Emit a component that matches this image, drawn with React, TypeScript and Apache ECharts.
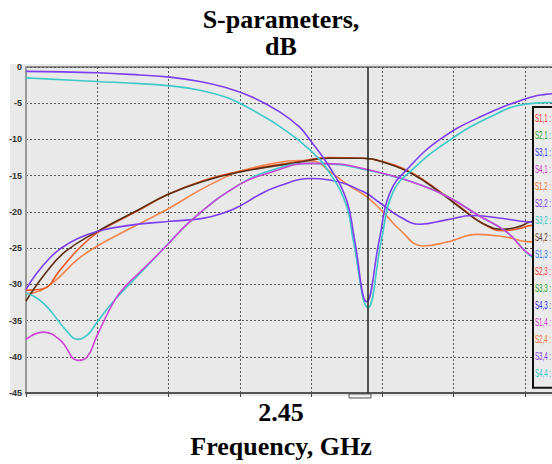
import React, { useEffect, useRef } from "react";
import * as echarts from "echarts";

// ---- data (frequency GHz, dB) ----
const S22: number[][] = [[1.970,-0.6],[2.070,-0.8],[2.130,-1.1],[2.172,-1.4],[2.214,-2.0],[2.249,-2.8],[2.284,-4.0],[2.326,-6.2],[2.354,-8.3],[2.368,-10.0],[2.396,-13.8],[2.420,-18.4],[2.431,-23.8],[2.448,-32.4],[2.466,-23.8],[2.481,-17.3],[2.509,-13.7],[2.551,-10.0],[2.607,-6.9],[2.677,-4.2],[2.708,-3.7],[2.770,-3.2]];
const S44: number[][] = [[1.970,-1.5],[2.070,-2.0],[2.130,-2.3],[2.172,-2.6],[2.214,-3.2],[2.249,-4.1],[2.270,-5.0],[2.298,-6.5],[2.326,-8.2],[2.368,-11.4],[2.396,-14.6],[2.420,-19.2],[2.429,-23.8],[2.450,-33.2],[2.469,-23.8],[2.485,-17.3],[2.513,-14.1],[2.560,-10.4],[2.621,-6.9],[2.673,-5.1],[2.708,-4.9],[2.770,-4.8]];
const S34: number[][] = [[1.970,-30.7],[1.984,-28.6],[2.004,-26.3],[2.018,-25.1],[2.042,-23.7],[2.070,-22.7],[2.112,-21.9],[2.172,-21.3],[2.218,-20.9],[2.249,-20.1],[2.270,-19.2],[2.298,-17.6],[2.326,-16.4],[2.368,-15.4],[2.396,-15.6],[2.443,-17.2],[2.466,-18.7],[2.495,-20.7],[2.523,-21.7],[2.560,-21.1],[2.597,-20.5],[2.631,-20.8],[2.677,-21.4],[2.708,-21.5],[2.770,-21.5]];
const S32: number[][] = [[1.970,-31.2],[1.987,-32.0],[2.004,-33.6],[2.025,-36.2],[2.043,-37.6],[2.057,-36.9],[2.070,-35.2],[2.095,-32.1],[2.130,-28.5],[2.162,-25.2],[2.204,-21.0],[2.270,-16.2],[2.326,-13.9],[2.368,-13.3],[2.410,-13.5],[2.438,-14.0],[2.466,-14.6],[2.513,-15.9],[2.560,-17.8],[2.607,-20.6],[2.645,-22.8],[2.677,-26.0],[2.708,-27.8],[2.770,-30.0]];
const S41: number[][] = [[1.970,-37.6],[1.994,-36.6],[2.018,-37.7],[2.043,-40.5],[2.056,-40.0],[2.070,-37.0],[2.095,-32.1],[2.112,-30.0],[2.130,-28.3],[2.162,-25.2],[2.204,-21.0],[2.270,-16.2],[2.312,-14.6],[2.368,-13.3],[2.410,-13.4],[2.438,-13.9],[2.476,-14.8],[2.513,-15.9],[2.560,-17.8],[2.607,-20.6],[2.645,-22.8],[2.677,-25.9],[2.708,-26.8],[2.770,-29.0]];
const S42: number[][] = [[1.970,-32.3],[1.997,-28.5],[2.025,-25.5],[2.070,-22.7],[2.126,-19.8],[2.169,-17.6],[2.218,-15.8],[2.270,-14.5],[2.350,-13.2],[2.396,-12.6],[2.443,-12.6],[2.476,-13.3],[2.513,-14.8],[2.551,-17.3],[2.583,-19.7],[2.611,-21.6],[2.639,-22.4],[2.663,-22.0],[2.677,-21.4],[2.708,-20.8],[2.770,-20.0]];
const S24: number[][] = [[1.970,-30.8],[1.994,-30.6],[2.018,-28.0],[2.042,-25.3],[2.070,-22.9],[2.126,-19.9],[2.169,-17.6],[2.218,-15.7],[2.270,-14.4],[2.350,-13.1],[2.396,-12.5],[2.443,-12.6],[2.476,-13.2],[2.513,-14.7],[2.551,-17.2],[2.583,-19.6],[2.611,-21.6],[2.639,-22.6],[2.663,-22.3],[2.677,-21.9],[2.708,-21.5],[2.770,-21.0]];
const S12: number[][] = [[1.970,-31.3],[1.990,-30.9],[2.011,-29.5],[2.042,-26.6],[2.070,-24.7],[2.116,-22.3],[2.169,-19.6],[2.214,-17.0],[2.252,-15.1],[2.270,-14.4],[2.312,-13.4],[2.354,-12.9],[2.375,-13.0],[2.396,-14.4],[2.424,-16.4],[2.448,-17.9],[2.470,-19.9],[2.495,-22.5],[2.527,-24.7],[2.560,-24.2],[2.603,-23.1],[2.645,-23.5],[2.673,-24.1],[2.708,-24.2],[2.770,-24.0]];

const MARKER_FREQ = 2.45;
const X_MIN = 1.97;
const X_MAX = 2.77;
const X_STEP = 0.1;
const Y_MIN = -45;
const Y_MAX = 0;
const Y_STEP = 5;

const legendNames = ["S1,1 :", "S2,1 :", "S3,1 :", "S4,1 :", "S1,2 :", "S2,2 :", "S3,2 :", "S4,2 :", "S1,3 :", "S2,3 :", "S3,3 :", "S4,3 :", "S1,4 :", "S2,4 :", "S3,4 :", "S4,4 :"];
const legendColors = ["#ee2a2a", "#22a022", "#2a2ae8", "#c830c8", "#f0702e", "#7a32ee", "#30c4c4", "#5a3418", "#2f6cf0", "#ee3030", "#22a022", "#2424e0", "#d030d0", "#f0702e", "#7a32ee", "#30c4c4"];

const VIOLET = "#7b3ff0";
const TEAL = "#3ec8c8";
const MAGENTA = "#cc44d4";
const BROWN = "#5a2e14";
const REDOR = "#ea5a26";
const ORANGE = "#f4844c";

const serif = "'Liberation Serif', 'Times New Roman', serif";
const narrow = "'Liberation Sans Narrow', 'Liberation Sans', Arial, sans-serif";

export default function App() {
  const ref = useRef<HTMLDivElement>(null);
  useEffect(() => {
    document.body.style.margin = "0";
    const chart = echarts.init(ref.current!, null, { renderer: "svg" });
    const line = (name: string, data: number[][], color: string, extra: any = {}) => ({
      name,
      type: "line",
      data,
      smooth: 0.45,
      showSymbol: false,
      symbol: "none",
      lineStyle: { color, width: 1.6 },
      itemStyle: { color },
      z: 3,
      ...extra,
    });
    chart.setOption({
      animation: false,
      backgroundColor: "#ffffff",
      grid: { left: 26, top: 67, right: 4, bottom: 71, show: true, backgroundColor: "#e9e9e9", borderColor: "#333", borderWidth: 1 },
      xAxis: {
        type: "value", min: X_MIN, max: X_MAX, interval: X_STEP,
        axisLabel: { show: false },
        axisLine: { show: true, onZero: false, lineStyle: { color: "#555", width: 2 } },
        axisTick: { show: true, length: 4, lineStyle: { color: "#444", width: 1 } },
        splitLine: { show: true, lineStyle: { type: [2, 2], color: "#555", width: 1 } },
      },
      yAxis: {
        type: "value", min: Y_MIN, max: Y_MAX, interval: Y_STEP,
        axisLine: { show: true, lineStyle: { color: "#999", width: 2 } },
        axisTick: { show: false },
        axisLabel: { fontSize: 9, fontFamily: narrow, fontWeight: "bold", color: "#333", margin: 4 },
        splitLine: { show: true, lineStyle: { type: [2, 2], color: "#555", width: 1 } },
      },
      series: [
        line("S1,2", S12, ORANGE),
        line("S2,4", S24, REDOR),
        line("S4,2", S42, BROWN),
        line("S3,4", S34, VIOLET),
        line("S3,2", S32, TEAL),
        line("S4,1", S41, MAGENTA),
        line("S4,4", S44, TEAL),
        line("S2,2", S22, VIOLET, {
          markLine: {
            silent: true, symbol: ["none", "none"], label: { show: false },
            lineStyle: { color: "#222", width: 1.5, type: "solid" },
            data: [{ xAxis: MARKER_FREQ }],
          },
        }),
      ],
    });
    const mx = chart.convertToPixel({ xAxisIndex: 0 }, MARKER_FREQ) as number;
    const by = chart.convertToPixel({ yAxisIndex: 0 }, Y_MIN) as number;
    const ty = chart.convertToPixel({ yAxisIndex: 0 }, Y_MAX) as number;
    const legendTop = ty + 40;
    const itemH = 17.05;
    const graphics: any[] = [
      { type: "rect", z: -10, shape: { x: 10, y: ty - 3, width: 620, height: by - ty + 6 }, style: { fill: "#e9e9e9" } },
      { type: "text", x: 281, y: 19.5, style: { text: "S-parameters,", font: `bold 26px ${serif}`, fill: "#000", align: "center", verticalAlign: "middle" } },
      { type: "text", x: 281, y: 46.5, style: { text: "dB", font: `bold 26px ${serif}`, fill: "#000", align: "center", verticalAlign: "middle" } },
      { type: "text", x: 281, y: 412.5, style: { text: String(MARKER_FREQ), font: `bold 26px ${serif}`, fill: "#000", align: "center", verticalAlign: "middle" } },
      { type: "text", x: 281, y: 446, style: { text: "Frequency, GHz", font: `bold 26px ${serif}`, fill: "#000", align: "center", verticalAlign: "middle" } },
      { type: "rect", z: 20, shape: { x: mx - 19, y: by + 1, width: 22, height: 4 }, style: { fill: "#f2f2f2", stroke: "#555", lineWidth: 1 } },
      { type: "rect", z: 20, shape: { x: 533, y: legendTop, width: 80, height: itemH * legendNames.length + 8 }, style: { fill: "#ebebeb", stroke: "#111", lineWidth: 2 } },
    ];
    legendNames.forEach((n, i) => {
      graphics.push({
        type: "text", z: 21, x: 535, y: legendTop + 11 + i * itemH, scaleX: 0.56,
        style: { text: n, font: `11px ${narrow}`, fill: legendColors[i], align: "left", verticalAlign: "middle" },
      });
    });
    chart.setOption({ graphic: graphics });
    return () => chart.dispose();
  }, []);
  return (
    <div style={{ position: "fixed", left: 0, top: 0, width: 552, height: 464, overflow: "hidden", background: "#fff" }}>
      <div ref={ref} style={{ width: 600, height: 464 }} />
    </div>
  );
}
